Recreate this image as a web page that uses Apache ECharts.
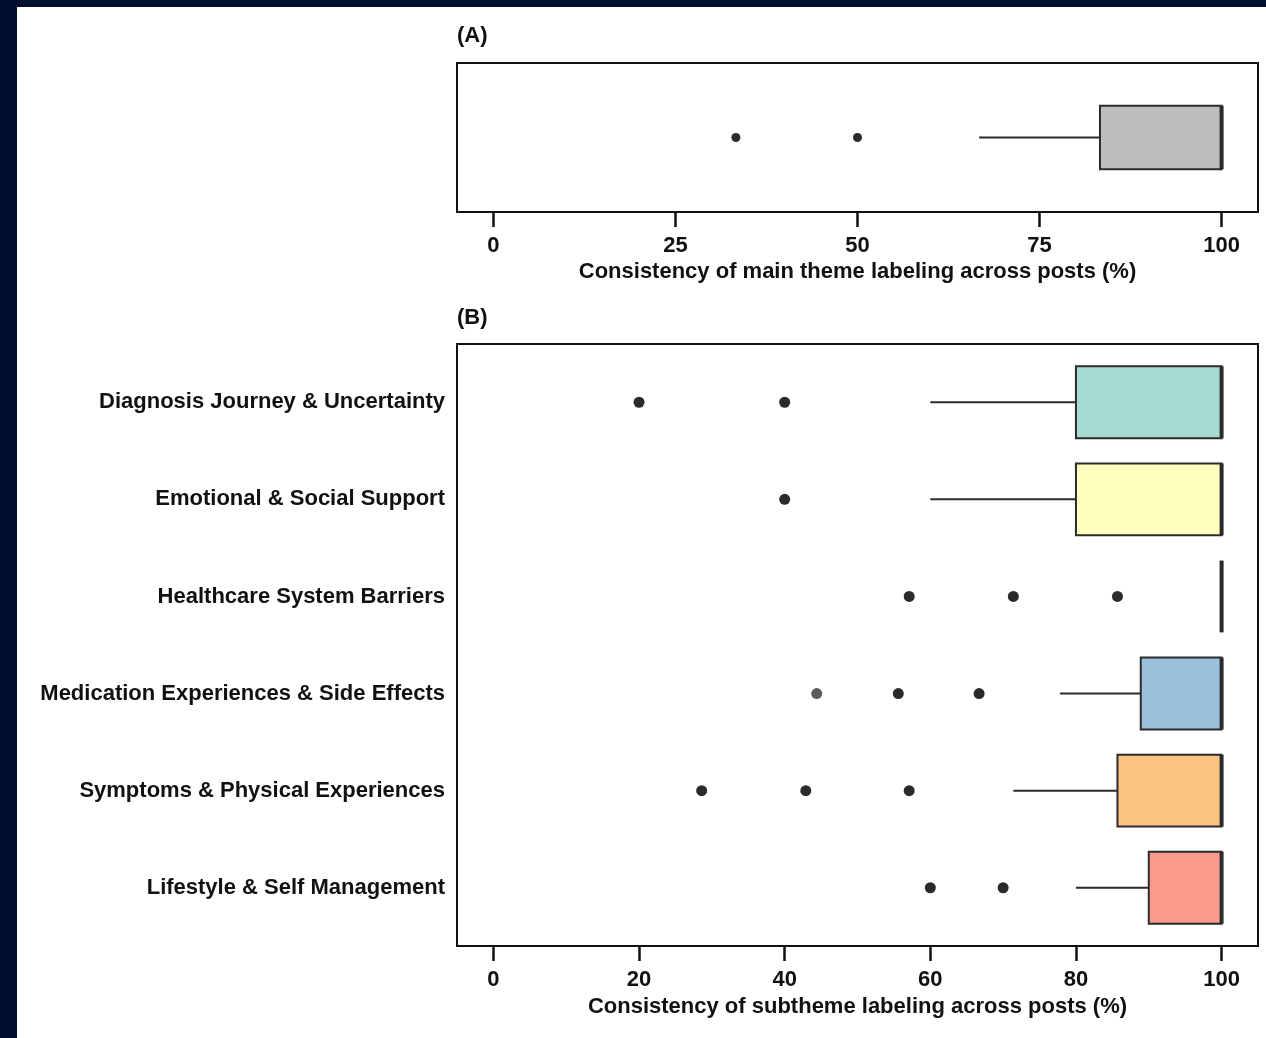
<!DOCTYPE html>
<html>
<head>
<meta charset="utf-8">
<script src="https://cdn.jsdelivr.net/npm/echarts@6/dist/echarts.min.js"></script>
<style>
  html, body { margin: 0; padding: 0; background: #000f2e; width: 1266px; height: 1038px; overflow: hidden; }
  #chart { position: absolute; left: 17px; top: 7px; width: 1249px; height: 1031px; background: #fff; }
</style>
</head>
<body>
<div id="chart"></div>
<script>
// panel A: main theme consistency
const mainBox = [[1, 66.7, 83.3, 100, 100, 100]] // [row, whiskerLow, q1, median, q3, whiskerHigh]
const mainOutliers = [[33.3, 1], [50, 1]]
const mainTicks = [0, 25, 50, 75, 100]

// panel B: subtheme consistency
const subthemes = [
  'Diagnosis Journey & Uncertainty',
  'Emotional & Social Support',
  'Healthcare System Barriers',
  'Medication Experiences & Side Effects',
  'Symptoms & Physical Experiences',
  'Lifestyle & Self Management',
]
const subColors = ['#a5dcd2', '#ffffc0', '#bdbdbd', '#9ac0db', '#fdc381', '#f99a8c']
const subBoxes = [
  [1, 60, 80, 100, 100, 100],
  [2, 60, 80, 100, 100, 100],
  [3, 100, 100, 100, 100, 100],
  [4, 77.8, 88.9, 100, 100, 100],
  [5, 71.4, 85.7, 100, 100, 100],
  [6, 80, 90, 100, 100, 100],
]
const subOutliers = [
  [20, 1], [40, 1],
  [40, 2],
  [57.1, 3], [71.4, 3], [85.7, 3],
  [44.4, 4], [55.6, 4], [66.7, 4],
  [28.6, 5], [42.9, 5], [57.1, 5],
  [60, 6], [70, 6],
]
const subTicks = [0, 20, 40, 60, 80, 100]

const FONT = '"Liberation Sans", Arial, Helvetica, sans-serif'
const INK = '#2b2b2b'

function boxRenderer(boxWidth, colors) {
  return function (params, api) {
    const row = api.value(0)
    const lo = api.coord([api.value(1), row])
    const q1 = api.coord([api.value(2), row])
    const med = api.coord([api.value(3), row])
    const q3 = api.coord([api.value(4), row])
    const half = Math.abs(api.coord([0, row + boxWidth / 2])[1] - q1[1])
    const children = []
    if (q3[0] > q1[0]) {
      children.push({
        type: 'rect',
        shape: { x: q1[0], y: q1[1] - half, width: q3[0] - q1[0], height: half * 2 },
        style: { fill: colors[params.dataIndex], stroke: INK, lineWidth: 2 },
      })
    }
    if (q1[0] > lo[0]) {
      children.push({
        type: 'line',
        shape: { x1: lo[0], y1: lo[1], x2: q1[0], y2: q1[1] },
        style: { stroke: INK, lineWidth: 2 },
      })
    }
    children.push({
      type: 'line',
      shape: { x1: med[0], y1: med[1] - half, x2: med[0], y2: med[1] + half },
      style: { stroke: INK, lineWidth: 4 },
    })
    return { type: 'group', children }
  }
}

const xAxisCommon = (ticks, name) => ({
  type: 'value',
  min: -5,
  max: 105,
  splitLine: { show: false },
  axisLine: { show: false },
  axisTick: { show: true, customValues: ticks, length: 15, inside: false, lineStyle: { color: '#111', width: 2.5 } },
  axisLabel: { customValues: ticks, margin: 23, fontSize: 22, fontWeight: 'bold', color: '#111', fontFamily: FONT },
  name,
  nameLocation: 'middle',
  nameGap: 49,
  nameTextStyle: { fontSize: 22, fontWeight: 'bold', color: '#111', fontFamily: FONT },
})

const chart = echarts.init(document.getElementById('chart'))
chart.setOption({
  backgroundColor: '#ffffff',
  animation: false,
  title: [
    { text: '(A)', left: 435, top: 13, textStyle: { fontSize: 22, fontWeight: 'bold', color: '#111', fontFamily: FONT } },
    { text: '(B)', left: 435, top: 295, textStyle: { fontSize: 22, fontWeight: 'bold', color: '#111', fontFamily: FONT } },
  ],
  grid: [
    { left: 440, top: 56, width: 801, height: 149, show: true, borderColor: '#111', borderWidth: 2, backgroundColor: 'transparent' },
    { left: 440, top: 337, width: 801, height: 602, show: true, borderColor: '#111', borderWidth: 2, backgroundColor: 'transparent' },
  ],
  xAxis: [
    Object.assign({ gridIndex: 0 }, xAxisCommon(mainTicks, 'Consistency of main theme labeling across posts (%)')),
    Object.assign({ gridIndex: 1 }, xAxisCommon(subTicks, 'Consistency of subtheme labeling across posts (%)')),
  ],
  yAxis: [
    {
      gridIndex: 0, type: 'value', min: 0.4, max: 1.6, inverse: true,
      axisLine: { show: false }, axisTick: { show: false }, axisLabel: { show: false }, splitLine: { show: false },
    },
    {
      gridIndex: 1, type: 'value', min: 0.4, max: 6.6, inverse: true,
      axisLine: { show: false }, axisTick: { show: false }, splitLine: { show: false },
      axisLabel: {
        customValues: [1, 2, 3, 4, 5, 6],
        formatter: (v) => subthemes[Math.round(v) - 1] || '',
        margin: 12, fontSize: 22, fontWeight: 'bold', color: '#111', fontFamily: FONT,
      },
    },
  ],
  series: [
    {
      type: 'custom', xAxisIndex: 0, yAxisIndex: 0,
      renderItem: boxRenderer(0.51, ['#bdbdbd']),
      encode: { x: [1, 2, 3, 4, 5], y: 0 },
      data: mainBox,
      z: 2,
    },
    {
      type: 'scatter', xAxisIndex: 0, yAxisIndex: 0,
      symbolSize: 9,
      itemStyle: { color: INK, opacity: 1 },
      data: mainOutliers,
      z: 3,
    },
    {
      type: 'custom', xAxisIndex: 1, yAxisIndex: 1,
      renderItem: boxRenderer(0.74, subColors),
      encode: { x: [1, 2, 3, 4, 5], y: 0 },
      data: subBoxes,
      z: 2,
    },
    {
      type: 'scatter', xAxisIndex: 1, yAxisIndex: 1,
      symbolSize: 11,
      itemStyle: { color: INK, opacity: 1 },
      data: subOutliers.map((p) => (p[0] === 44.4 ? { value: p, itemStyle: { color: '#5c5c5c' } } : p)),
      z: 3,
    },
  ],
})
</script>
</body>
</html>
